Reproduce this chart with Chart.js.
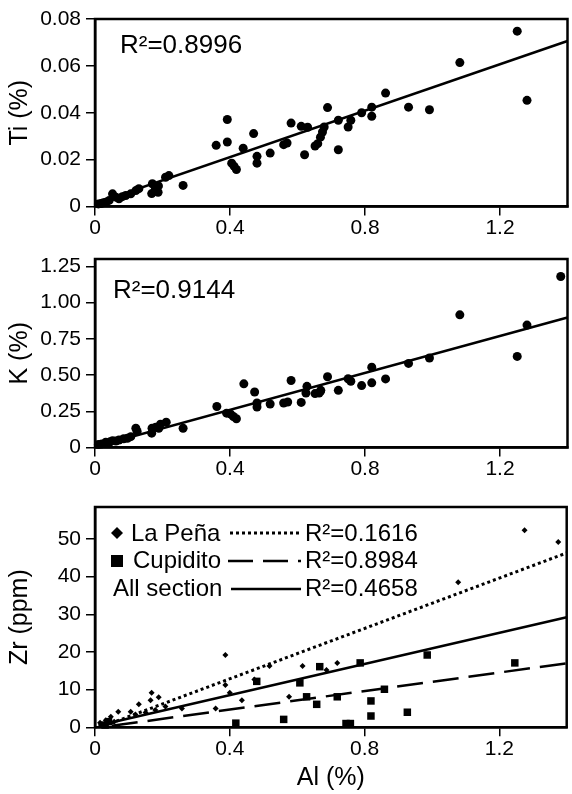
<!DOCTYPE html>
<html>
<head>
<meta charset="utf-8">
<script src="https://cdn.jsdelivr.net/npm/chart.js@4"></script>
<style>
  body { margin: 0; background: #fff; }
  canvas { position: absolute; left: 0; display: block; }
</style>
</head>
<body>
<canvas id="ti-chart" width="572" height="240" style="top:0"></canvas>
<canvas id="k-chart" width="572" height="245" style="top:240px"></canvas>
<canvas id="zr-chart" width="572" height="309" style="top:485px"></canvas>
<script>
// x axis (Al %) shared by all panels
const alTicks = [0, 0.4, 0.8, 1.2];
const alTickLabels = ['0', '0.4', '0.8', '1.2'];

// Ti vs Al
const tiAl = [0.010, 0.018, 0.025, 0.032, 0.042, 0.052, 0.062, 0.071, 0.081, 0.091, 0.106, 0.121, 0.130, 0.168, 0.170, 0.179, 0.187, 0.188, 0.209, 0.219, 0.261,
  0.359, 0.392, 0.392, 0.405, 0.412, 0.419, 0.439, 0.470, 0.480, 0.480, 0.519, 0.559, 0.569, 0.581, 0.611, 0.621, 0.630, 0.652, 0.660, 0.668, 0.674, 0.679,
  0.689, 0.721, 0.721, 0.750, 0.758, 0.790, 0.820, 0.820, 0.861, 0.929, 0.991, 1.081, 1.251, 1.280];
const tiVal = [0.0011, 0.0013, 0.0016, 0.0018, 0.0026, 0.0054, 0.0040, 0.0033, 0.0042, 0.0047, 0.0054, 0.0068, 0.0076, 0.0055, 0.0097, 0.0076, 0.0061, 0.0088, 0.0125, 0.0132, 0.0090,
  0.0261, 0.0275, 0.0371, 0.0185, 0.0172, 0.0158, 0.0249, 0.0311, 0.0214, 0.0185, 0.0228, 0.0264, 0.0271, 0.0356, 0.0342, 0.0221, 0.0338, 0.0258, 0.0268, 0.0296, 0.0318, 0.0339,
  0.0422, 0.0368, 0.0242, 0.0339, 0.0368, 0.0400, 0.0424, 0.0385, 0.0484, 0.0424, 0.0413, 0.0614, 0.0748, 0.0453];
const tiFitX = [0, 1.4];
const tiFitY = [0.0012, 0.0706];
const tiTicks = [0, 0.02, 0.04, 0.06, 0.08];
const tiTickLabels = ['0', '0.02', '0.04', '0.06', '0.08'];

// K vs Al
const kAl = [0.010, 0.020, 0.032, 0.045, 0.052, 0.062, 0.071, 0.085, 0.096, 0.106, 0.121, 0.125, 0.168, 0.169, 0.180, 0.189, 0.194, 0.211, 0.261,
  0.361, 0.390, 0.402, 0.410, 0.419, 0.441, 0.473, 0.480, 0.480, 0.519, 0.559, 0.571, 0.581, 0.611, 0.625, 0.628, 0.652, 0.664, 0.668, 0.669,
  0.689, 0.721, 0.750, 0.758, 0.790, 0.820, 0.820, 0.861, 0.929, 0.991, 1.081, 1.251, 1.280, 1.380];
const kVal = [0.020, 0.025, 0.036, 0.040, 0.047, 0.045, 0.052, 0.060, 0.064, 0.075, 0.133, 0.110, 0.099, 0.133, 0.140, 0.133, 0.161, 0.175, 0.133,
  0.283, 0.237, 0.230, 0.214, 0.198, 0.439, 0.383, 0.307, 0.279, 0.300, 0.307, 0.314, 0.462, 0.311, 0.376, 0.422, 0.372, 0.376, 0.388, 0.394,
  0.488, 0.394, 0.474, 0.457, 0.427, 0.554, 0.446, 0.473, 0.580, 0.617, 0.915, 0.628, 0.844, 1.179];
const kFitX = [0, 1.4];
const kFitY = [0.005, 0.897];
const kTicks = [0, 0.25, 0.5, 0.75, 1.0, 1.25];
const kTickLabels = ['0', '0.25', '0.50', '0.75', '1.00', '1.25'];

// Zr vs Al
const penaAl = [0.015, 0.032, 0.047, 0.057, 0.069, 0.106, 0.120, 0.130, 0.150, 0.165, 0.168, 0.179, 0.189, 0.209, 0.258, 0.358,
  0.387, 0.387, 0.400, 0.436, 0.473, 0.518, 0.576, 0.616, 0.687, 0.719, 1.078, 1.275, 1.375];
const penaZr = [1.2, 1.9, 2.8, 1.5, 4.1, 4.1, 3.4, 6.1, 3.9, 7.2, 9.2, 4.6, 8.0, 5.5, 5.0, 5.0,
  19.2, 11.2, 9.2, 7.2, 12.7, 16.3, 8.1, 16.3, 15.2, 17.1, 38.5, 52.3, 49.2];
const cupAl = [0.030, 0.040, 0.418, 0.480, 0.560, 0.608, 0.628, 0.658, 0.667, 0.719, 0.745, 0.758, 0.787, 0.819, 0.819, 0.859, 0.927, 0.986, 1.246];
const cupZr = [0.6, 1.5, 1.1, 12.2, 2.1, 11.8, 8.1, 6.1, 16.1, 8.1, 1.0, 1.0, 17.1, 7.0, 3.0, 10.1, 4.0, 19.2, 17.1];
const penaFitX = [0.03, 1.4];
const penaFitY = [0.5, 46.3];
const cupFitX = [0.05, 1.4];
const cupFitY = [0.4, 17.0];
const allFitX = [0.01, 1.4];
const allFitY = [0.5, 29.2];
const zrTicks = [0, 10, 20, 30, 40, 50];
const zrTickLabels = ['0', '10', '20', '30', '40', '50'];

const legendNames = ['La Peña', 'Cupidito', 'All section'];
const legendR2 = ['R²=0.1616', 'R²=0.8984', 'R²=0.4658'];

Chart.defaults.font.family = "'Liberation Sans', Arial, sans-serif";
Chart.defaults.color = '#000';

function pts(xs, ys) {
  return xs.map((x, i) => ({ x: x, y: ys[i] }));
}

const framePlugin = {
  id: 'frame',
  afterDraw(chart) {
    const { ctx, chartArea: a } = chart;
    ctx.save();
    ctx.strokeStyle = '#000';
    ctx.lineWidth = 2.5;
    ctx.strokeRect(a.left, a.top, a.right - a.left, a.bottom - a.top);
    ctx.restore();
  }
};

const r2Plugin = {
  id: 'r2',
  afterDraw(chart, args, opts) {
    if (!opts.text) return;
    const { ctx, chartArea: a } = chart;
    ctx.save();
    ctx.fillStyle = '#000';
    ctx.font = "26px 'Liberation Sans', Arial, sans-serif";
    ctx.textBaseline = 'alphabetic';
    ctx.fillText(opts.text, a.left + opts.dx, a.top + opts.dy);
    ctx.restore();
  }
};

const keyPlugin = {
  id: 'key',
  afterDraw(chart, args, opts) {
    if (!opts.show) return;
    const { ctx, chartArea: a } = chart;
    const L = a.left, T = a.top;
    ctx.save();
    ctx.fillStyle = '#000';
    ctx.strokeStyle = '#000';
    ctx.font = "24px 'Liberation Sans', Arial, sans-serif";
    ctx.textBaseline = 'alphabetic';
    // markers
    ctx.beginPath();
    ctx.moveTo(L + 22, T + 20); ctx.lineTo(L + 28, T + 26); ctx.lineTo(L + 22, T + 32); ctx.lineTo(L + 16, T + 26);
    ctx.closePath(); ctx.fill();
    ctx.fillRect(L + 16, T + 48, 12, 12);
    // names
    ctx.fillText(legendNames[0], L + 36, T + 34);
    ctx.fillText(legendNames[1], L + 38, T + 61);
    ctx.fillText(legendNames[2], L + 18, T + 89);
    // line samples
    const ys = [T + 26, T + 54, T + 82];
    const dashes = [[3, 3], [25, 10], []];
    const widths = [3, 2.5, 2.5];
    const x0 = [L + 135, L + 133, L + 136];
    ys.forEach((y, i) => {
      ctx.lineWidth = widths[i];
      ctx.setLineDash(dashes[i]);
      ctx.beginPath(); ctx.moveTo(x0[i], y); ctx.lineTo(L + 206, y); ctx.stroke();
    });
    ctx.setLineDash([]);
    ctx.fillText(legendR2[0], L + 210, T + 34);
    ctx.fillText(legendR2[1], L + 210, T + 61);
    ctx.fillText(legendR2[2], L + 210, T + 89);
    ctx.restore();
  }
};

function makeScales(yTicks, yLabels, yMax, yTitle, xHeight, xTitle) {
  return {
    x: {
      type: 'linear', min: 0, max: 1.4,
      afterBuildTicks: s => { s.ticks = alTicks.map(v => ({ value: v })); },
      afterFit: s => { s.height = xHeight; },
      ticks: { callback: (v, i) => alTickLabels[i], font: { size: 21 }, color: '#000', padding: 0, maxRotation: 0 },
      grid: { drawOnChartArea: false, tickLength: 9, color: '#000', lineWidth: 1.5 },
      border: { color: '#000', width: 2.5 },
      title: { display: !!xTitle, text: xTitle, font: { size: 25 }, color: '#000', padding: { top: 0, bottom: 1 } }
    },
    y: {
      type: 'linear', min: 0, max: yMax,
      afterBuildTicks: s => { s.ticks = yTicks.map(v => ({ value: v })); },
      afterFit: s => { s.width = 95; },
      ticks: { callback: (v, i) => yLabels[i], font: { size: 21 }, color: '#000', padding: 5 },
      grid: { drawOnChartArea: false, tickLength: 9, color: '#000', lineWidth: 1.5 },
      border: { color: '#000', width: 2.5 },
      title: { display: true, text: yTitle, font: { size: 25 }, color: '#000', padding: { top: 5, bottom: 0 } }
    }
  };
}

function pointSet(data, style, radius) {
  return {
    data: data, pointStyle: style, pointRadius: radius, pointBorderWidth: 0,
    backgroundColor: '#000', borderColor: '#000', clip: false
  };
}

function fitSet(data, dash, width) {
  return {
    data: data, showLine: true, pointRadius: 0, borderColor: '#000', borderWidth: width || 2.5,
    borderDash: dash, fill: false
  };
}

function baseOptions(padTop, scales, plugins) {
  return {
    responsive: false,
    animation: false,
    layout: { padding: { top: padTop, right: 1, left: 0, bottom: 0 } },
    scales: scales,
    plugins: Object.assign({ legend: { display: false }, tooltip: { enabled: false } }, plugins)
  };
}

new Chart(document.querySelector('#ti-chart').getContext('2d'), {
  type: 'scatter',
  data: {
    datasets: [
      pointSet(pts(tiAl, tiVal), 'circle', 4.5),
      fitSet(pts(tiFitX, tiFitY), [])
    ]
  },
  options: baseOptions(19, makeScales(tiTicks, tiTickLabels, 0.08, 'Ti (%)', 33.5, ''),
    { r2: { text: 'R²=0.8996', dx: 25, dy: 34 }, key: { show: false } }),
  plugins: [framePlugin, r2Plugin, keyPlugin]
});

new Chart(document.querySelector('#k-chart').getContext('2d'), {
  type: 'scatter',
  data: {
    datasets: [
      pointSet(pts(kAl, kVal), 'circle', 4.5),
      fitSet(pts(kFitX, kFitY), [])
    ]
  },
  options: baseOptions(19, makeScales(kTicks, kTickLabels, 1.3, 'K (%)', 37.5, ''),
    { r2: { text: 'R²=0.9144', dx: 18, dy: 39 }, key: { show: false } }),
  plugins: [framePlugin, r2Plugin, keyPlugin]
});

new Chart(document.querySelector('#zr-chart').getContext('2d'), {
  type: 'scatter',
  data: {
    datasets: [
      pointSet(pts(penaAl, penaZr), 'rectRot', 3),
      pointSet(pts(cupAl, cupZr), 'rect', 5.3),
      fitSet(pts(penaFitX, penaFitY), [3, 3], 3),
      fitSet(pts(cupFitX, cupFitY), [26, 10]),
      fitSet(pts(allFitX, allFitY), [])
    ]
  },
  options: baseOptions(22, makeScales(zrTicks, zrTickLabels, 58.5, 'Zr (ppm)', 66.7, 'Al (%)'),
    { r2: { text: '' }, key: { show: true } }),
  plugins: [framePlugin, r2Plugin, keyPlugin]
});
</script>
</body>
</html>
